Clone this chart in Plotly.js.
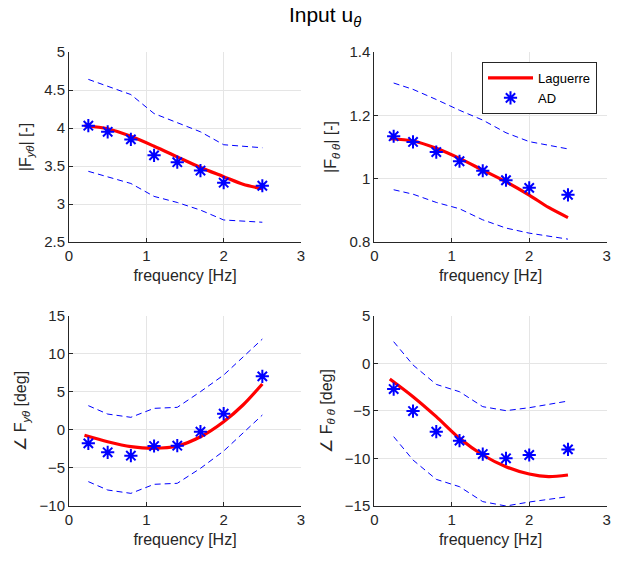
<!DOCTYPE html>
<html>
<head>
<meta charset="utf-8">
<script src="https://cdn.plot.ly/plotly-3.0.1.min.js"></script>
<style>html,body{margin:0;padding:0;background:#fff;}#chart{width:628px;height:561px;}</style>
</head>
<body>
<div id="chart"></div>
<script>
// Frequencies
const freqAD  = [0.25, 0.5, 0.8, 1.1, 1.4, 1.7, 2.0, 2.5];
const freqFit = [0.2, 0.5, 0.8, 1.1, 1.4, 1.7, 2.0, 2.25, 2.5];

// |F_yθ|
const magYT_AD    = [4.03, 3.95, 3.85, 3.64, 3.55, 3.44, 3.28, 3.24];
const magYT_Fit   = [4.03, 3.99, 3.89, 3.76, 3.62, 3.48, 3.36, 3.26, 3.20];
const magYT_Upper = [4.64, 4.55, 4.44, 4.19, 4.07, 3.95, 3.78, 3.74];
const magYT_Lower = [3.43, 3.36, 3.27, 3.10, 3.02, 2.92, 2.79, 2.76];

// |F_θθ|
const magTT_AD    = [1.134, 1.116, 1.084, 1.055, 1.025, 0.995, 0.971, 0.949];
const magTT_Fit   = [1.126, 1.119, 1.096, 1.064, 1.027, 0.990, 0.948, 0.909, 0.877];
const magTT_Upper = [1.302, 1.282, 1.250, 1.216, 1.185, 1.145, 1.117, 1.094];
const magTT_Lower = [0.965, 0.951, 0.925, 0.905, 0.870, 0.844, 0.828, 0.809];

// ∠F_yθ [deg]
const phYT_AD    = [-1.77, -2.95, -3.39, -2.12, -2.08, -0.24, 2.13, 7.03];
const phYT_Fit   = [-0.71, -1.55, -2.2, -2.42, -2.12, -0.9, 1.08, 3.27, 6.03];
const phYT_Upper = [3.18, 2.08, 1.65, 2.83, 2.96, 5.02, 7.2, 11.93];
const phYT_Lower = [-6.8, -7.9, -8.34, -7.15, -7.02, -5.05, -2.78, 1.95];

// ∠F_θθ [deg]
const phTT_AD    = [-2.71, -5.02, -7.19, -8.13, -9.54, -9.99, -9.64, -9.05];
const phTT_Fit   = [-1.65, -3.51, -5.61, -7.89, -9.64, -10.87, -11.64, -11.92, -11.74];
const phTT_Upper = [2.27, -0.18, -2.22, -2.99, -4.56, -4.98, -4.67, -3.97];
const phTT_Lower = [-7.71, -10.17, -12.2, -12.97, -14.54, -15.0, -14.58, -14.02];

const FONT = "Liberation Sans, Arial, Helvetica, sans-serif";
const AXC = "#262626";

function panel(xa, ya, fit, ad, up, lo, legend) {
  return [
    {x: freqAD, y: up, xaxis: xa, yaxis: ya, mode: 'lines', line: {color: '#0000ff', width: 1, dash: '6px,4px'}, showlegend: false, hoverinfo: 'skip'},
    {x: freqAD, y: lo, xaxis: xa, yaxis: ya, mode: 'lines', line: {color: '#0000ff', width: 1, dash: '6px,4px'}, showlegend: false, hoverinfo: 'skip'},
    {x: freqFit, y: fit, xaxis: xa, yaxis: ya, mode: 'lines', name: 'Laguerre', line: {color: '#ff0000', width: 3.2, shape: 'spline', smoothing: 0.8}, showlegend: legend},
    {x: freqAD, y: ad, xaxis: xa, yaxis: ya, mode: 'markers', name: 'AD', marker: {symbol: 'asterisk-open', size: 11, color: '#0000ff', line: {color: '#0000ff', width: 2}}, showlegend: legend}
  ];
}

const data = [].concat(
  panel('x', 'y', magYT_Fit, magYT_AD, magYT_Upper, magYT_Lower, false),
  panel('x2', 'y2', magTT_Fit, magTT_AD, magTT_Upper, magTT_Lower, true),
  panel('x3', 'y3', phYT_Fit, phYT_AD, phYT_Upper, phYT_Lower, false),
  panel('x4', 'y4', phTT_Fit, phTT_AD, phTT_Upper, phTT_Lower, false)
);

function xax(domain, anchor) {
  return {
    domain: domain, anchor: anchor, range: [0, 3], tick0: 0, dtick: 1,
    showline: true, linecolor: AXC, linewidth: 1, mirror: false,
    ticks: 'inside', ticklen: 4, tickcolor: AXC,
    showgrid: true, gridcolor: '#e5e5e5', zeroline: false,
    tickfont: {family: FONT, size: 15, color: AXC},
    title: {text: 'frequency [Hz]', font: {family: FONT, size: 16, color: AXC}, standoff: 6}
  };
}
function yax(domain, anchor, range, dtick, title) {
  return {
    domain: domain, anchor: anchor, range: range, tick0: range[0], dtick: dtick,
    showline: true, linecolor: AXC, linewidth: 1, mirror: false,
    ticks: 'inside', ticklen: 4, tickcolor: AXC,
    showgrid: true, gridcolor: '#e5e5e5', zeroline: false,
    tickfont: {family: FONT, size: 15, color: AXC},
    title: {text: title, font: {family: FONT, size: 16, color: AXC}, standoff: 8}
  };
}

const xL = [69/628, 301/628], xR = [374.3/628, 606.7/628];
const yT = [1 - 242/561, 1 - 52/561], yB = [1 - 506/561, 1 - 315.7/561];

const layout = {
  width: 628, height: 561,
  margin: {l: 0, r: 0, t: 0, b: 0},
  paper_bgcolor: '#ffffff', plot_bgcolor: '#ffffff',
  font: {family: FONT, color: AXC},
  title: {text: 'Input u<sub><i>θ</i></sub>', x: 325/628, xanchor: 'center', y: 1 - 15/561, yanchor: 'middle',
          font: {family: FONT, size: 21, color: '#000000'}},
  xaxis: xax(xL, 'y'),
  yaxis: yax(yT, 'x', [2.5, 5], 0.5, '|F<sub><i>yθ</i></sub>| [-]'),
  xaxis2: xax(xR, 'y2'),
  yaxis2: yax(yT, 'x2', [0.8, 1.4], 0.2, '|F<sub><i>θ θ</i></sub>| [-]'),
  xaxis3: xax(xL, 'y3'),
  yaxis3: yax(yB, 'x3', [-10, 15], 5, '∠ F<sub><i>yθ</i></sub> [deg]'),
  xaxis4: xax(xR, 'y4'),
  yaxis4: yax(yB, 'x4', [-15, 5], 5, '∠ F<sub><i>θ θ</i></sub> [deg]'),
  showlegend: true,
  legend: {x: 597/628, xanchor: 'right', y: 1 - 62/561, yanchor: 'top',
           bgcolor: '#ffffff', bordercolor: AXC, borderwidth: 1,
           font: {family: FONT, size: 13, color: '#000000'},
           itemwidth: 45, tracegroupgap: 0}
};

Plotly.newPlot('chart', data, layout, {displayModeBar: false, staticPlot: true});
</script>
</body>
</html>
